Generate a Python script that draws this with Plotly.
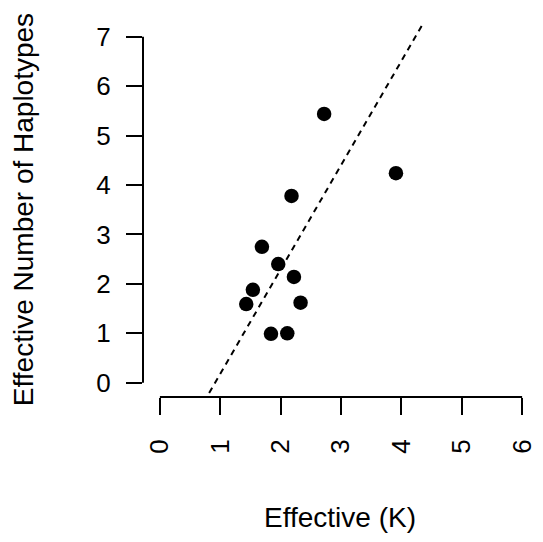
import plotly.graph_objects as go

# Data
effective_k = [1.69, 1.96, 2.22, 1.54, 1.43, 2.33, 1.84, 2.11, 2.72, 3.91, 2.18]
effective_haplotypes = [2.75, 2.40, 2.14, 1.88, 1.59, 1.62, 0.99, 1.00, 5.44, 4.24, 3.78]

# Reference (dashed) line: y = intercept + slope * x
line_intercept = -1.93
line_slope = 2.11

x_ticks = [0, 1, 2, 3, 4, 5, 6]
y_ticks = [0, 1, 2, 3, 4, 5, 6, 7]

x_range = [-0.28, 6.23]
y_range = [-0.29, 7.28]

FONT = "Liberation Sans, Arial, sans-serif"

fig = go.Figure()

line_x = [x_range[0], x_range[1]]
line_y = [line_intercept + line_slope * v for v in line_x]
fig.add_trace(go.Scatter(
    x=line_x, y=line_y, mode="lines",
    line=dict(color="black", width=2, dash="6px,5px"),
    hoverinfo="skip", showlegend=False,
))

fig.add_trace(go.Scatter(
    x=effective_k, y=effective_haplotypes, mode="markers",
    marker=dict(color="black", size=14.5, line=dict(width=0)),
    showlegend=False,
))

# R-style axis lines spanning only the tick range
fig.add_shape(type="line", xref="x", yref="paper",
              x0=x_ticks[0], x1=x_ticks[-1], y0=0, y1=0,
              line=dict(color="black", width=2))
fig.add_shape(type="line", xref="paper", yref="y",
              x0=0, x1=0, y0=y_ticks[0], y1=y_ticks[-1],
              line=dict(color="black", width=2))

fig.update_xaxes(
    range=x_range, tickvals=x_ticks, ticktext=[str(v) for v in x_ticks],
    ticks="outside", ticklen=17, tickwidth=2, tickcolor="black",
    tickangle=-90, tickfont=dict(family=FONT, size=26, color="black"),
    ticklabelstandoff=14,
    showgrid=False, zeroline=False, showline=False,
)
fig.update_yaxes(
    range=y_range, tickvals=y_ticks, ticktext=[str(v) for v in y_ticks],
    ticks="outside", ticklen=16, tickwidth=2, tickcolor="black",
    tickfont=dict(family=FONT, size=26, color="black"),
    ticklabelstandoff=10,
    showgrid=False, zeroline=False, showline=False,
)

fig.add_annotation(text="Effective (K)", xref="paper", yref="paper",
                   x=0.502, y=-0.3235, xanchor="center", yanchor="middle",
                   showarrow=False, font=dict(family=FONT, size=28, color="black"))
fig.add_annotation(text="Effective Number of Haplotypes", xref="paper", yref="paper",
                   x=-0.305, y=0.5, xanchor="center", yanchor="middle",
                   textangle=-90, showarrow=False,
                   font=dict(family=FONT, size=28, color="black"))

# The page body has an 8px default margin, so the figure is sized to fit
fig.update_layout(
    width=535, height=534,
    margin=dict(l=135, r=7, t=15, b=145),
    plot_bgcolor="white", paper_bgcolor="white",
    font=dict(family=FONT, color="black"),
)

fig.write_html("out.html")
